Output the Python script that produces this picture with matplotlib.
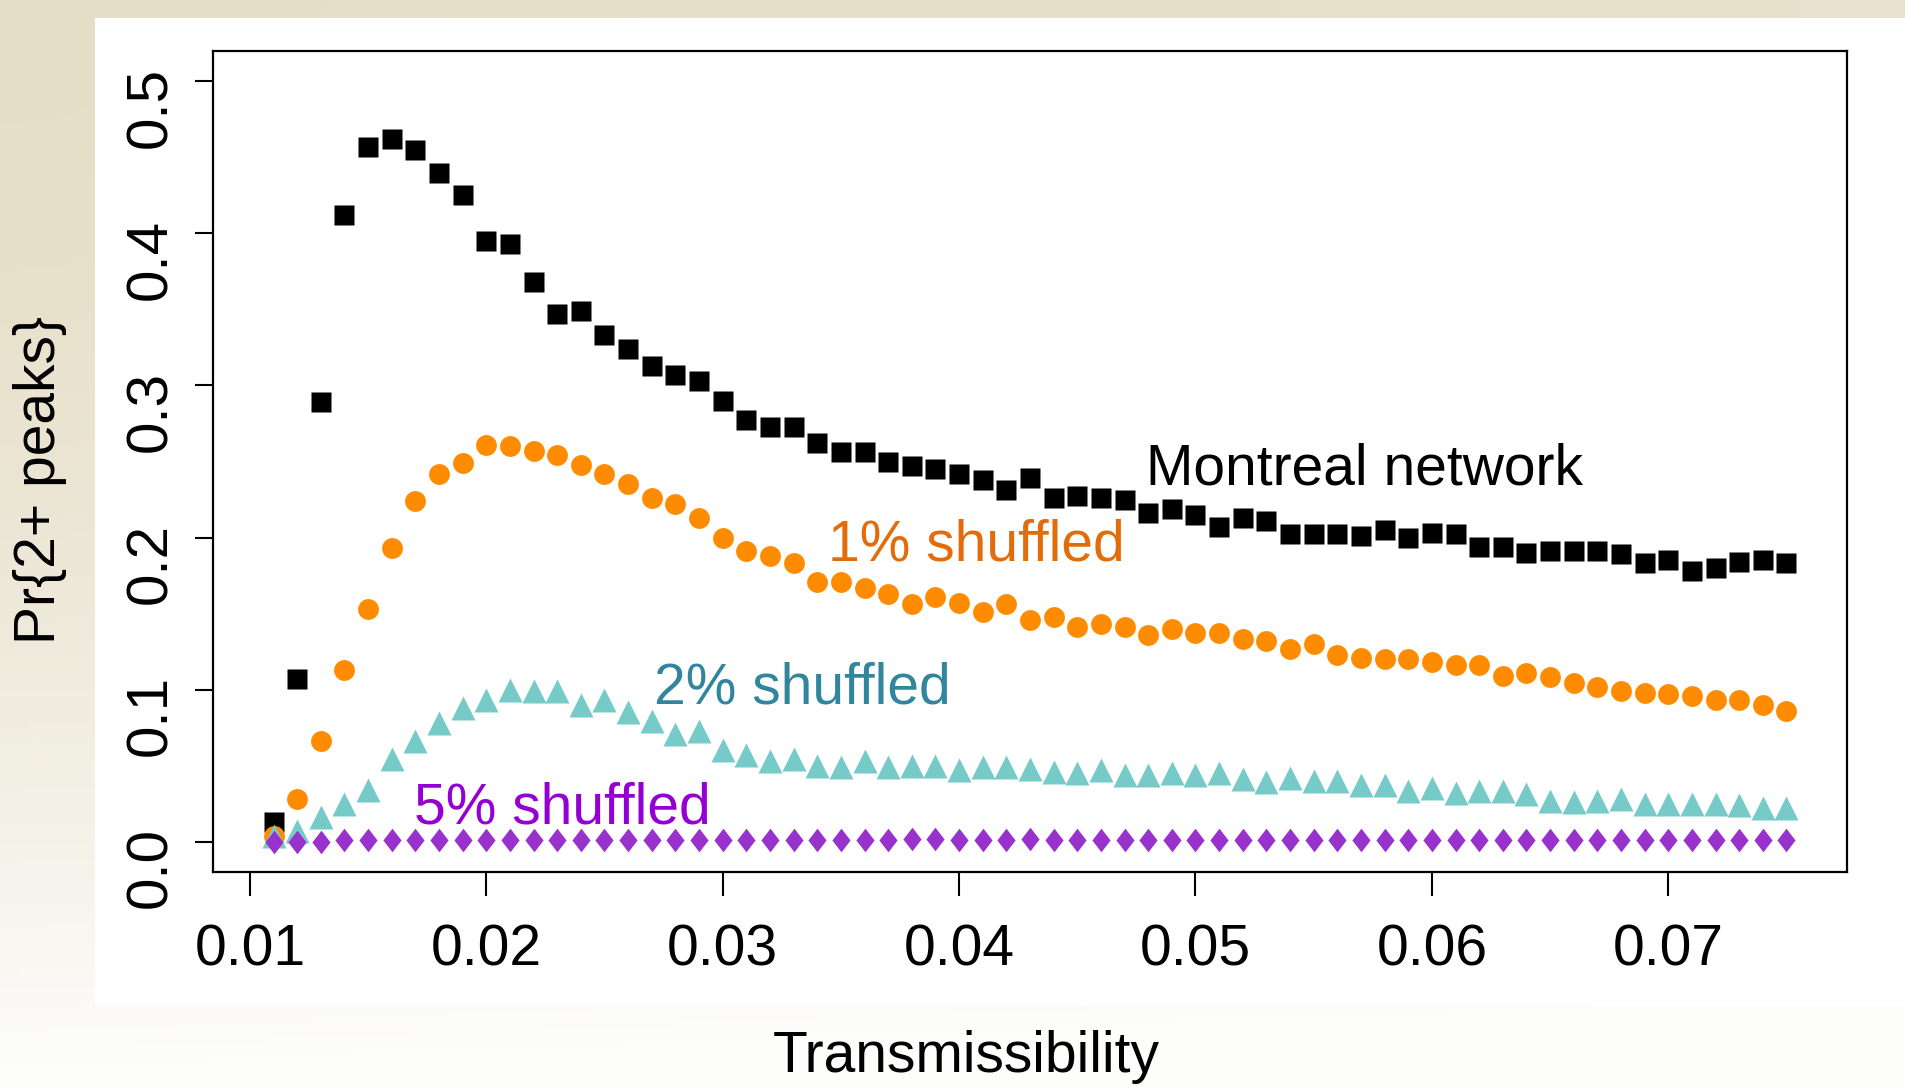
import numpy as np
import matplotlib
matplotlib.use("Agg")
import matplotlib.pyplot as plt
import matplotlib.transforms as mtransforms
from matplotlib.patches import Rectangle
from matplotlib.path import Path

plt.rcParams['font.family'] = ['Liberation Sans', 'DejaVu Sans']

# transmissibility values, 0.011 .. 0.075
transmissibility = [round(0.011 + 0.001 * i, 3) for i in range(65)]

montreal = [0.013, 0.107, 0.289, 0.412, 0.457, 0.462, 0.455, 0.440, 0.425, 0.395,
            0.393, 0.368, 0.347, 0.349, 0.333, 0.324, 0.313, 0.307, 0.303, 0.290,
            0.277, 0.273, 0.273, 0.262, 0.256, 0.256, 0.250, 0.247, 0.245, 0.242,
            0.238, 0.231, 0.239, 0.226, 0.227, 0.226, 0.225, 0.216, 0.219, 0.215,
            0.207, 0.213, 0.211, 0.202, 0.202, 0.202, 0.201, 0.205, 0.200, 0.203,
            0.202, 0.194, 0.194, 0.190, 0.191, 0.191, 0.191, 0.189, 0.183, 0.185,
            0.178, 0.180, 0.184, 0.185, 0.183]

shuffled_1 = [0.004, 0.028, 0.066, 0.113, 0.153, 0.193, 0.224, 0.242, 0.249, 0.261,
              0.260, 0.257, 0.254, 0.248, 0.242, 0.235, 0.226, 0.222, 0.213, 0.200,
              0.191, 0.188, 0.183, 0.171, 0.171, 0.167, 0.163, 0.156, 0.161, 0.157,
              0.151, 0.156, 0.146, 0.148, 0.141, 0.143, 0.141, 0.136, 0.140, 0.137,
              0.137, 0.133, 0.132, 0.127, 0.130, 0.123, 0.121, 0.120, 0.120, 0.118,
              0.116, 0.116, 0.109, 0.111, 0.108, 0.104, 0.102, 0.099, 0.098, 0.097,
              0.096, 0.093, 0.093, 0.090, 0.086]

shuffled_2 = [0.004, 0.007, 0.016, 0.025, 0.034, 0.054, 0.066, 0.078, 0.088, 0.093,
              0.100, 0.099, 0.099, 0.090, 0.093, 0.085, 0.079, 0.071, 0.073, 0.060,
              0.057, 0.053, 0.054, 0.050, 0.049, 0.053, 0.049, 0.050, 0.050, 0.047,
              0.049, 0.049, 0.048, 0.046, 0.045, 0.047, 0.044, 0.044, 0.045, 0.044,
              0.045, 0.041, 0.039, 0.042, 0.040, 0.040, 0.037, 0.037, 0.033, 0.035,
              0.032, 0.033, 0.033, 0.031, 0.027, 0.026, 0.027, 0.028, 0.025, 0.025,
              0.025, 0.025, 0.024, 0.022, 0.022]

shuffled_5 = [0.000, 0.000, 0.000, 0.001, 0.001, 0.001, 0.001, 0.001, 0.001, 0.001,
              0.001, 0.001, 0.001, 0.001, 0.001, 0.001, 0.001, 0.001, 0.001, 0.001,
              0.001, 0.001, 0.001, 0.001, 0.001, 0.001, 0.001, 0.002, 0.002, 0.001,
              0.001, 0.001, 0.002, 0.001, 0.001, 0.001, 0.001, 0.001, 0.001, 0.001,
              0.001, 0.001, 0.001, 0.001, 0.001, 0.001, 0.001, 0.001, 0.001, 0.001,
              0.001, 0.001, 0.001, 0.001, 0.001, 0.001, 0.001, 0.001, 0.001, 0.001,
              0.001, 0.001, 0.001, 0.001, 0.001]

W, H = 1905, 1087
fig = plt.figure(figsize=(W / 100, H / 100), dpi=100)

# slide-style background: beige fading to white, white panel behind the plot
bg = fig.add_axes([0, 0, 1, 1], zorder=-10)
yy, xx = np.mgrid[0:1:200j, 0:1:200j]
t = np.clip(yy ** 1.8 + 0.12 * xx, 0, 1)[..., None]
beige = np.array([0.898, 0.871, 0.780])
white = np.array([0.995, 0.995, 0.99])
grad = beige * (1 - t) + white * t
bg.imshow(grad, extent=[0, W, H, 0], aspect='auto')
bg.add_patch(Rectangle((95, 18), W - 95, 987, facecolor='white', edgecolor='none'))
bg.set_xlim(0, W)
bg.set_ylim(H, 0)
bg.axis('off')

ax = fig.add_axes([213 / W, 1 - 872 / H, (1847 - 213) / W, (872 - 51) / H])
ax.set_facecolor('white')

diamond = Path([(0, 1), (0.77, 0), (0, -1), (-0.77, 0), (0, 1)],
               [Path.MOVETO, Path.LINETO, Path.LINETO, Path.LINETO, Path.CLOSEPOLY])

ax.plot(transmissibility, montreal, 's', color='black', ms=15, mec='none')
ax.plot(transmissibility, shuffled_1, 'o', color='#ff8c00', ms=15, mec='none')
ax.plot(transmissibility, shuffled_2, '^', color='#76cbc8', ms=17, mec='none')
ax.plot(transmissibility, shuffled_5, marker=diamond, ls='none', color='#9932cc', ms=17, mec='none')

fs = 41
ax.text(0.0479, 0.245, 'Montreal network', color='black', fontsize=fs, va='center', ha='left')
ax.text(0.03444, 0.195, '1% shuffled', color='#e36c0a', fontsize=fs, va='center', ha='left')
ax.text(0.0271, 0.1005, '2% shuffled', color='#31859c', fontsize=fs, va='center', ha='left')
ax.text(0.01696, 0.0215, '5% shuffled', color='#9400d3', fontsize=fs, va='center', ha='left')

ax.set_xlim(0.00844, 0.07756)
ax.set_ylim(-0.02, 0.52)
ax.set_xticks([0.01, 0.02, 0.03, 0.04, 0.05, 0.06, 0.07])
ax.set_xticklabels(['0.01', '0.02', '0.03', '0.04', '0.05', '0.06', '0.07'])
ax.set_yticks([0.0, 0.1, 0.2, 0.3, 0.4, 0.5])
ax.set_yticklabels(['0.0', '0.1', '0.2', '0.3', '0.4', '0.5'])
ax.tick_params(axis='x', length=17, width=1.5, pad=20, labelsize=fs, direction='out')
ax.tick_params(axis='y', length=13, width=1.5, pad=12, labelsize=fs + 1, direction='out',
               labelrotation=90)
shift = mtransforms.ScaledTranslation(0, -0.26, fig.dpi_scale_trans)
for lab in ax.get_yticklabels():
    lab.set_va('center')
    lab.set_transform(lab.get_transform() + shift)
for s in ax.spines.values():
    s.set_linewidth(1.6)

fig.text(966 / W, 1 - 1057 / H, 'Transmissibility', fontsize=fs, ha='center', va='center')
fig.text(40 / W, 1 - 480 / H, 'Pr{2+ peaks}', fontsize=fs, ha='center', va='center',
         rotation=90)

fig.savefig('out.png', dpi=100)
